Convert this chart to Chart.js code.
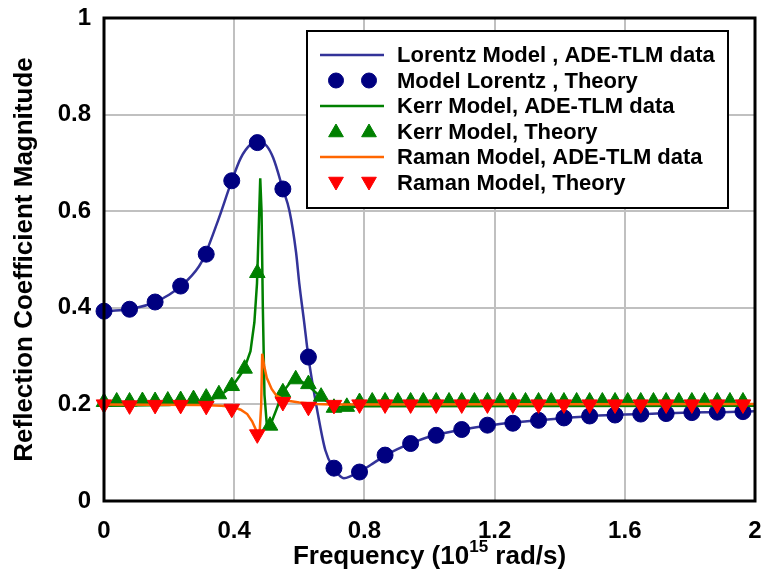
<!DOCTYPE html>
<html>
<head>
<meta charset="utf-8">
<script src="https://cdn.jsdelivr.net/npm/chart.js@4.4.0/dist/chart.umd.min.js"></script>
<style>
  html, body { margin: 0; padding: 0; background: #fff; }
  canvas { display: block; }
</style>
</head>
<body>
<canvas id="grafico" width="765" height="573"></canvas>
<script>
// Coeficiente de reflexión vs frecuencia (10^15 rad/s)

// --- curvas ADE-TLM (simulación) ---
const lorentzSimX = [0, 0.05, 0.1, 0.15, 0.2, 0.25, 0.3, 0.35, 0.39, 0.42, 0.45, 0.475, 0.5, 0.52, 0.55, 0.57, 0.59, 0.6, 0.615, 0.628, 0.655, 0.68, 0.705, 0.72, 0.737, 0.76, 0.785, 0.82, 0.8635, 0.9, 0.942, 1.0, 1.1, 1.2, 1.3, 1.4, 1.5, 1.6, 1.7, 1.8, 1.9, 2.0];
const lorentzSimY = [0.393, 0.395, 0.4, 0.41, 0.427, 0.453, 0.495, 0.58, 0.658, 0.71, 0.738, 0.745, 0.735, 0.71, 0.645, 0.6, 0.515, 0.45, 0.37, 0.298, 0.188, 0.105, 0.068, 0.055, 0.047, 0.052, 0.06, 0.075, 0.094, 0.107, 0.119, 0.133, 0.148, 0.158, 0.165, 0.171, 0.176, 0.179, 0.181, 0.183, 0.184, 0.186];

const kerrSimX = [0, 0.2, 0.3, 0.35, 0.395, 0.43, 0.45, 0.462, 0.47, 0.476, 0.48, 0.484, 0.488, 0.493, 0.5, 0.51, 0.53, 0.55, 0.575, 0.595, 0.625, 0.67, 0.71, 0.75, 0.8, 2.0];
const kerrSimY = [0.197, 0.199, 0.205, 0.215, 0.238, 0.272, 0.31, 0.37, 0.45, 0.58, 0.668, 0.6, 0.4, 0.22, 0.16, 0.155, 0.19, 0.226, 0.248, 0.252, 0.24, 0.213, 0.195, 0.194, 0.196, 0.197];

const ramanSimX = [0, 0.3, 0.36, 0.395, 0.42, 0.44, 0.455, 0.465, 0.472, 0.478, 0.483, 0.486, 0.492, 0.5, 0.515, 0.53, 0.56, 0.6, 0.65, 0.7, 2.0];
const ramanSimY = [0.2, 0.199, 0.197, 0.195, 0.189, 0.18, 0.165, 0.15, 0.137, 0.14, 0.2, 0.305, 0.28, 0.255, 0.232, 0.218, 0.208, 0.204, 0.201, 0.2, 0.201];

// --- puntos teóricos ---
const teoriaX = [0, 0.0785, 0.157, 0.2355, 0.314, 0.3925, 0.471, 0.5495, 0.628, 0.7065, 0.785, 0.8635, 0.942, 1.0205, 1.099, 1.178, 1.256, 1.335, 1.413, 1.492, 1.57, 1.649, 1.727, 1.806, 1.884, 1.963];
const lorentzTeoY = [0.393, 0.397, 0.412, 0.445, 0.511, 0.663, 0.742, 0.646, 0.298, 0.068, 0.06, 0.095, 0.119, 0.136, 0.148, 0.157, 0.161, 0.167, 0.172, 0.176, 0.178, 0.18, 0.181, 0.183, 0.184, 0.185];
const ramanTeoY = [0.2, 0.198, 0.199, 0.199, 0.197, 0.191, 0.138, 0.205, 0.195, 0.199, 0.2, 0.2, 0.2, 0.2, 0.2, 0.2, 0.2, 0.2, 0.2, 0.2, 0.2, 0.2, 0.2, 0.2, 0.2, 0.2];

// Kerr tiene el doble de puntos
const kerrTeoX = [0, 0.039, 0.0785, 0.118, 0.157, 0.196, 0.2355, 0.275, 0.314, 0.353, 0.3925, 0.432, 0.471, 0.51, 0.5495, 0.589, 0.628, 0.667, 0.7065, 0.746, 0.785, 0.824, 0.8635, 0.903, 0.942, 0.981, 1.0205, 1.06, 1.099, 1.138, 1.178, 1.217, 1.256, 1.295, 1.335, 1.374, 1.413, 1.452, 1.492, 1.531, 1.57, 1.609, 1.649, 1.688, 1.727, 1.766, 1.806, 1.845, 1.884, 1.923, 1.963];
const kerrTeoY = [0.205, 0.206, 0.206, 0.207, 0.207, 0.208, 0.209, 0.211, 0.214, 0.221, 0.238, 0.274, 0.472, 0.156, 0.225, 0.252, 0.242, 0.216, 0.193, 0.195, 0.205, 0.206, 0.206, 0.206, 0.206, 0.206, 0.206, 0.206, 0.206, 0.206, 0.206, 0.206, 0.206, 0.206, 0.206, 0.206, 0.206, 0.206, 0.206, 0.206, 0.206, 0.206, 0.206, 0.206, 0.206, 0.206, 0.206, 0.206, 0.206, 0.206, 0.206];

const xTicks = [0, 0.4, 0.8, 1.2, 1.6, 2];
const yTicks = [0, 0.2, 0.4, 0.6, 0.8, 1];

const FUENTE = '"Liberation Sans", Arial, sans-serif';

function puntos(xs, ys) {
    return xs.map((x, i) => ({ x: x, y: ys[i] }));
}

// helper: serie de linea (sin marcadores)
function serieLinea(label, xs, ys, color, modo, orden) {
    return {
        label: label, data: puntos(xs, ys), borderColor: color, backgroundColor: color,
        borderWidth: 2.5, pointRadius: 0, showLine: true, clip: false, order: orden,
        cubicInterpolationMode: modo === 'suave' ? 'monotone' : 'default', tension: 0
    };
}

// helper: serie de marcadores (teoria)
function serieMarcas(label, xs, ys, color, estilo, radio, rot, orden) {
    return {
        label: label, data: puntos(xs, ys), borderColor: color, backgroundColor: color,
        showLine: false, pointStyle: estilo, pointRadius: radio, pointRotation: rot,
        pointBorderWidth: 1, clip: false, order: orden
    };
}

const datasets = [
    serieLinea('Lorentz Model , ADE-TLM data', lorentzSimX, lorentzSimY, '#333399', 'suave', 6),
    serieMarcas('Model Lorentz , Theory', teoriaX, lorentzTeoY, '#000080', 'circle', 8, 0, 5),
    serieLinea('Kerr Model, ADE-TLM data', kerrSimX, kerrSimY, '#008000', 'recta', 4),
    serieMarcas('Kerr Model, Theory', kerrTeoX, kerrTeoY, '#008000', 'triangle', 9, 0, 3),
    serieLinea('Raman Model, ADE-TLM data', ramanSimX, ramanSimY, '#FF6600', 'recta', 2),
    serieMarcas('Raman Model, Theory', teoriaX, ramanTeoY, '#FF0000', 'triangle', 9, 180, 1)
];

// marco, titulos de ejes y leyenda dibujados a mano
const extras = {
    id: 'extras',
    afterDraw(chart) {
        const ctx = chart.ctx;
        const a = chart.chartArea;
        const cx = (a.left + a.right) / 2, cy = (a.top + a.bottom) / 2;
        ctx.save();

        // marco negro
        ctx.strokeStyle = '#000';
        ctx.lineWidth = 3;
        ctx.strokeRect(a.left, a.top, a.right - a.left, a.bottom - a.top);

        ctx.fillStyle = '#000';
        ctx.textBaseline = 'middle';

        // titulo eje x con superindice
        const t1 = 'Frequency (10', t2 = '15', t3 = ' rad/s)';
        ctx.font = 'bold 26px ' + FUENTE;
        const w1 = ctx.measureText(t1).width, w3 = ctx.measureText(t3).width;
        ctx.font = 'bold 17px ' + FUENTE;
        const w2 = ctx.measureText(t2).width;
        let x0 = cx - (w1 + w2 + w3) / 2;
        const yT = 557;
        ctx.textAlign = 'left';
        ctx.font = 'bold 26px ' + FUENTE;
        ctx.fillText(t1, x0, yT);
        ctx.font = 'bold 17px ' + FUENTE;
        ctx.fillText(t2, x0 + w1, yT - 10);
        ctx.font = 'bold 26px ' + FUENTE;
        ctx.fillText(t3, x0 + w1 + w2, yT);

        // titulo eje y
        ctx.save();
        ctx.translate(25, cy);
        ctx.rotate(-Math.PI / 2);
        ctx.textAlign = 'center';
        ctx.font = 'bold 26px ' + FUENTE;
        ctx.fillText('Reflection Coefficient Magnitude', 0, 0);
        ctx.restore();

        // leyenda
        const lx = 307, ly = 31, lw = 421, lh = 177;
        ctx.fillStyle = '#fff';
        ctx.fillRect(lx, ly, lw, lh);
        ctx.strokeStyle = '#000';
        ctx.lineWidth = 2;
        ctx.strokeRect(lx, ly, lw, lh);

        chart.data.datasets.forEach((ds, i) => {
            const y = 55 + i * 25.5;
            ctx.fillStyle = ds.backgroundColor;
            ctx.strokeStyle = ds.borderColor;
            if (ds.showLine) {
                ctx.lineWidth = 2.5;
                ctx.beginPath();
                ctx.moveTo(320, y);
                ctx.lineTo(384, y);
                ctx.stroke();
            } else {
                ctx.lineWidth = 1;
                [336, 369].forEach(px => {
                    Chart.helpers.drawPoint(ctx, {
                        pointStyle: ds.pointStyle, radius: ds.pointStyle === 'circle' ? 7.5 : 8.5,
                        rotation: ds.pointRotation, borderWidth: 1
                    }, px, y + (ds.pointStyle === 'triangle' ? (ds.pointRotation ? -1 : 1) : 0));
                });
            }
            ctx.fillStyle = '#000';
            ctx.textAlign = 'left';
            ctx.font = 'bold 22px ' + FUENTE;
            ctx.fillText(ds.label, 397, y + 1);
        });

        ctx.restore();
    }
};

new Chart(document.getElementById('grafico').getContext('2d'), {
    type: 'line',
    data: { datasets: datasets },
    plugins: [extras],
    options: {
        responsive: false,
        animation: false,
        events: [],
        layout: { padding: { top: 18, right: 7, left: 0, bottom: 0 } },
        plugins: { legend: { display: false }, tooltip: { enabled: false } },
        scales: {
            x: {
                type: 'linear', min: 0, max: 2,
                afterFit: s => { s.height = 72; s.paddingLeft = 0; s.paddingRight = 0; },
                afterBuildTicks: s => { s.ticks = xTicks.map(v => ({ value: v })); },
                grid: { color: '#c0c0c0', lineWidth: 2, drawTicks: false },
                border: { display: false },
                ticks: {
                    padding: 16, color: '#000', maxRotation: 0,
                    font: { family: FUENTE, size: 24, weight: 'bold' },
                    callback: v => String(v)
                }
            },
            y: {
                type: 'linear', min: 0, max: 1,
                afterFit: s => { s.width = 104; s.paddingTop = 0; s.paddingBottom = 0; },
                afterBuildTicks: s => { s.ticks = yTicks.map(v => ({ value: v })); },
                grid: { color: '#c0c0c0', lineWidth: 2, drawTicks: false },
                border: { display: false },
                ticks: {
                    padding: 13, color: '#000',
                    font: { family: FUENTE, size: 24, weight: 'bold' },
                    callback: v => String(v)
                }
            }
        }
    }
});
</script>
</body>
</html>
